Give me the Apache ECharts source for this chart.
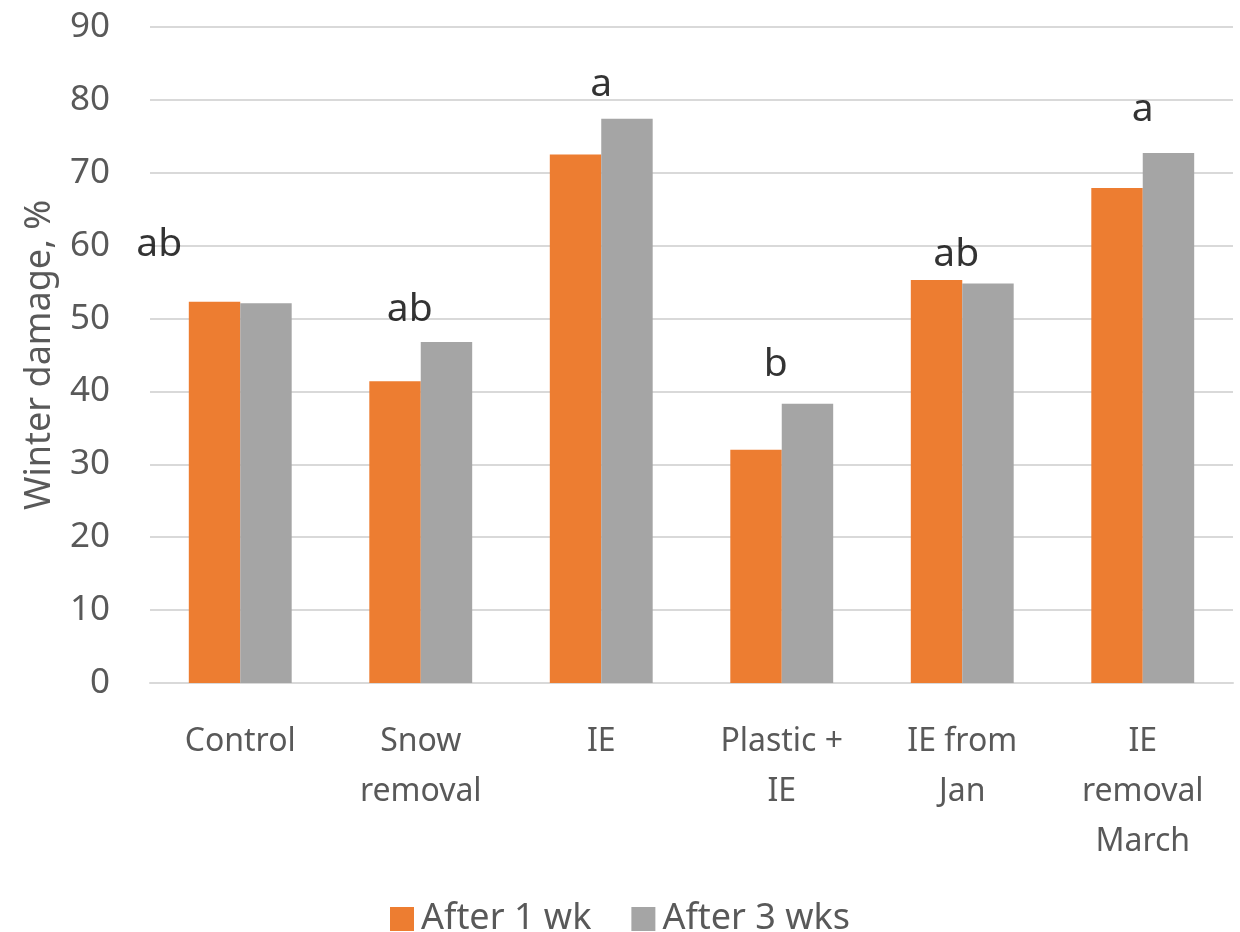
<!DOCTYPE html>
<html><head><meta charset="utf-8">
<script src="https://cdn.jsdelivr.net/npm/echarts@6/dist/echarts.min.js"></script>
<style>html,body{margin:0;padding:0;background:#fff}#c{width:1240px;height:932px}</style>
</head><body><div id="c"></div>
<script>
var categories = ['Control', 'Snow\nremoval', 'IE', 'Plastic +\nIE', 'IE from\nJan', 'IE\nremoval\nMarch'];
var after1wk = [52.3, 41.4, 72.5, 32.0, 55.3, 67.9];
var after3wks = [52.1, 46.8, 77.4, 38.3, 54.8, 72.7];
var letters = ['ab', 'ab', 'a', 'b', 'ab', 'a'];
var letterY = [60.1, 51.2, 82.0, 43.6, 58.7, 78.6];
var yTicks = [0, 10, 20, 30, 40, 50, 60, 70, 80, 90];

var letterOffsetX = [-81, -11, 0, -6, -6, 0];
var FONT = 'Noto Sans';
var chart = echarts.init(document.getElementById('c'), null, {renderer: 'canvas'});
chart.setOption({
  animation: false,
  textStyle: {fontFamily: FONT},
  grid: {left: 150, right: 7, top: 27, bottom: 249, containLabel: false},
  legend: {
    bottom: -10, left: 'center', itemWidth: 24, itemHeight: 24, itemGap: 40,
    icon: 'rect',
    textStyle: {fontFamily: FONT, fontSize: 36, color: '#595959', padding: [0, 0, 0, 2]},
    data: ['After 1 wk', 'After 3 wks']
  },
  xAxis: {
    type: 'category', data: categories,
    axisLine: {lineStyle: {color: '#d9d9d9', width: 2}},
    axisTick: {show: false},
    axisLabel: {fontFamily: FONT, fontSize: 32, color: '#595959', lineHeight: 50, margin: 34, interval: 0}
  },
  yAxis: {
    type: 'value', min: yTicks[0], max: yTicks[yTicks.length - 1], interval: 10,
    name: 'Winter damage, %', nameLocation: 'middle', nameGap: 92,
    nameTextStyle: {fontFamily: FONT, fontSize: 36, color: '#595959'},
    axisLine: {show: false}, axisTick: {show: false},
    splitLine: {lineStyle: {color: '#d9d9d9', width: 2}},
    axisLabel: {fontFamily: FONT, fontSize: 35, color: '#595959', margin: 40}
  },
  series: [
    {name: 'After 1 wk', type: 'bar', data: after1wk, barGap: '0%', barCategoryGap: '43%',
     itemStyle: {color: '#ED7D31'}},
    {name: 'After 3 wks', type: 'bar', data: after3wks, barGap: '0%', barCategoryGap: '43%',
     itemStyle: {color: '#A5A5A5'}},
    {type: 'scatter', symbolSize: 0, silent: true, z: 5,
     data: letters.map(function (l, i) {
       return {value: [i, letterY[i]], label: {show: true, formatter: l, position: 'inside', offset: [letterOffsetX[i], 0],
         fontFamily: FONT, fontSize: 39, color: '#000'}};
     })}
  ]
});
</script></body></html>
